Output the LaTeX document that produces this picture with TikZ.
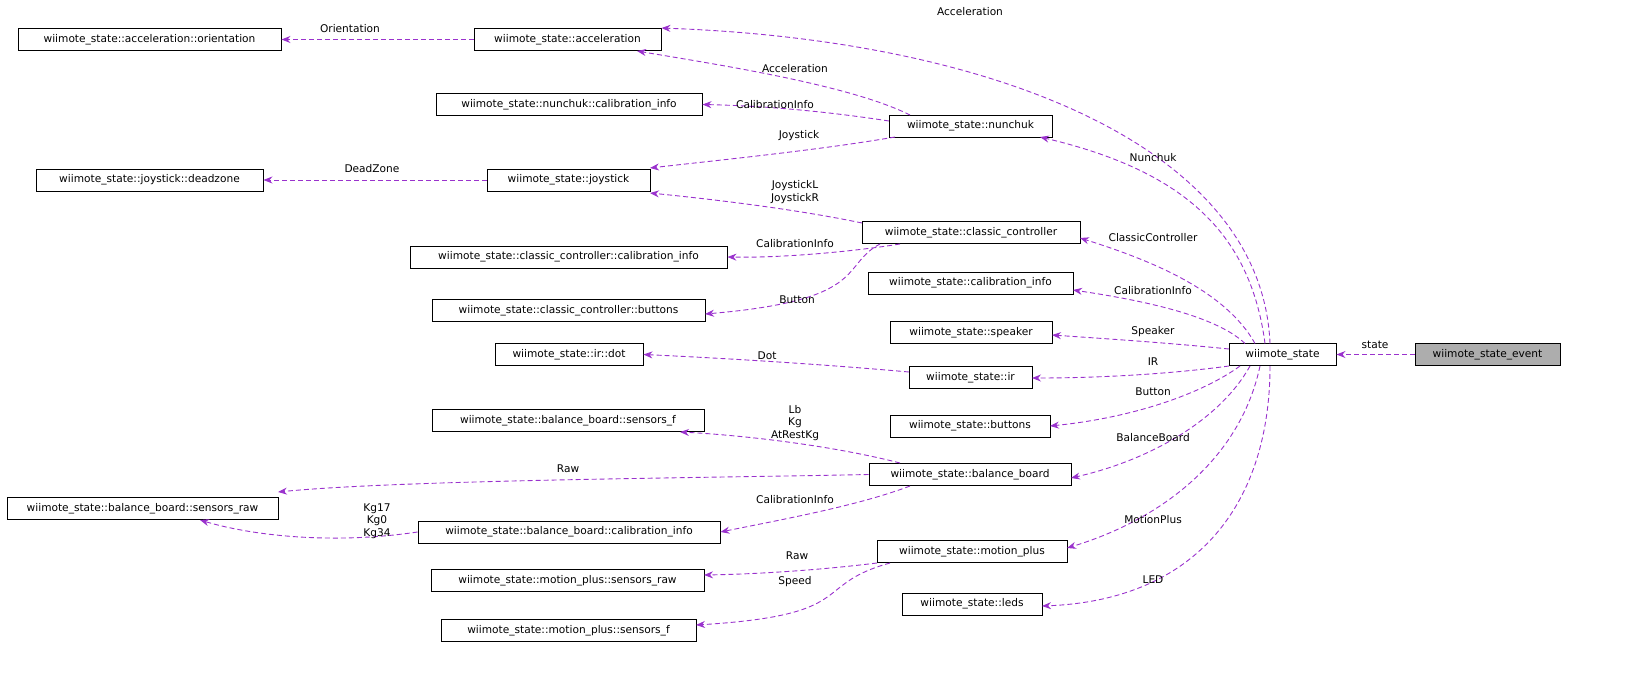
\documentclass[tikz,border=0pt]{standalone}
\usepackage{fontspec}
\setmainfont{DejaVu Sans}
\usetikzlibrary{arrows.meta}
\definecolor{edge}{HTML}{9A32CD}
\begin{document}
\begin{tikzpicture}[x=1pt,y=-1pt,
  box/.style={draw=black,fill=white,line width=0.9pt,inner sep=0pt,minimum height=22pt,font=\fontsize{10.6}{12}\selectfont},
  e/.style={draw=edge,dashed,dash pattern=on 5pt off 3pt,line width=0.9pt,-{Stealth[length=9pt,width=7pt]}},
  lbl/.style={font=\fontsize{10.6}{12.5}\selectfont,align=center,inner sep=0pt}]
\useasboundingbox (0,0) rectangle (1637,677);
\node[box,minimum width=263pt] (ori) at (149.5,39.5) {wiimote\_state::acceleration::orientation};
\node[box,minimum width=187pt] (acc) at (567.5,39.5) {wiimote\_state::acceleration};
\node[box,minimum width=266pt] (ncal) at (569,104.5) {wiimote\_state::nunchuk::calibration\_info};
\node[box,minimum width=163pt] (nun) at (970.5,126) {wiimote\_state::nunchuk};
\node[box,minimum width=227pt] (dz) at (149.5,180) {wiimote\_state::joystick::deadzone};
\node[box,minimum width=163pt] (joy) at (568.5,180) {wiimote\_state::joystick};
\node[box,minimum width=218pt] (cc) at (971,232.5) {wiimote\_state::classic\_controller};
\node[box,minimum width=317pt] (cccal) at (568.5,257) {wiimote\_state::classic\_controller::calibration\_info};
\node[box,minimum width=273pt] (ccb) at (568.5,310.5) {wiimote\_state::classic\_controller::buttons};
\node[box,minimum width=205pt] (cal) at (970.5,283) {wiimote\_state::calibration\_info};
\node[box,minimum width=162pt] (spk) at (971,332.5) {wiimote\_state::speaker};
\node[box,minimum width=107pt] (ws) at (1282.5,354.5) {wiimote\_state};
\node[box,minimum width=145pt,fill=black!32] (ev) at (1487.5,354.5) {wiimote\_state\_event};
\node[box,minimum width=148pt] (dot) at (569,354.5) {wiimote\_state::ir::dot};
\node[box,minimum width=123pt] (ir) at (970.5,377.5) {wiimote\_state::ir};
\node[box,minimum width=160pt] (btn) at (970,426) {wiimote\_state::buttons};
\node[box,minimum width=272pt] (bsf) at (568,420.5) {wiimote\_state::balance\_board::sensors\_f};
\node[box,minimum width=202pt] (bb) at (970,474.5) {wiimote\_state::balance\_board};
\node[box,minimum width=271pt] (bsr) at (142.5,508.5) {wiimote\_state::balance\_board::sensors\_raw};
\node[box,minimum width=302pt] (bcal) at (569,532) {wiimote\_state::balance\_board::calibration\_info};
\node[box,minimum width=190pt] (mp) at (972,551.5) {wiimote\_state::motion\_plus};
\node[box,minimum width=273pt] (msr) at (567.5,580.5) {wiimote\_state::motion\_plus::sensors\_raw};
\node[box,minimum width=255pt] (msf) at (568.5,630.5) {wiimote\_state::motion\_plus::sensors\_f};
\node[box,minimum width=140pt] (leds) at (972,604) {wiimote\_state::leds};

\draw[e] (ev.west) -- (ws.east);
\node[lbl] at (1375,345) {state};
\draw[e] (1270,343.5) .. controls (1262,150) and (1000,40) .. (acc.north east);
\node[lbl] at (970,12) {Acceleration};
\draw[e] (910,115) .. controls (850,85) and (720,65) .. (637,51);
\node[lbl] at (795,69) {Acceleration};
\draw[e] (acc.west) -- (ori.east);
\node[lbl] at (350,29) {Orientation};
\draw[e] (889,121) .. controls (830,112) and (770,106) .. (ncal.east);
\node[lbl] at (775,105) {CalibrationInfo};
\draw[e] (895,137) .. controls (820,150) and (720,160) .. (650,168);
\node[lbl] at (799,136) {Joystick};
\draw[e] (joy.west) -- (dz.east);
\node[lbl] at (372,169) {DeadZone};
\draw[e] (862,223) .. controls (800,210) and (720,200) .. (650,193);
\node[lbl] at (795,192) {JoystickL\\JoystickR};
\draw[e] (900,244) .. controls (850,252) and (780,258) .. (cccal.east);
\node[lbl] at (795,244) {CalibrationInfo};
\draw[e] (880,244) .. controls (840,265) and (870,300) .. (705,314);
\node[lbl] at (797,300) {Button};
\draw[e] (1265,343.5) .. controls (1250,230) and (1180,170) .. (1040,137);
\node[lbl] at (1153,158) {Nunchuk};
\draw[e] (1255,343.5) .. controls (1225,290) and (1150,260) .. (1080,238);
\node[lbl] at (1153,238) {ClassicController};
\draw[e] (1245,343.5) .. controls (1215,315) and (1140,300) .. (1073,290);
\node[lbl] at (1153,291) {CalibrationInfo};
\draw[e] (1229,349) .. controls (1170,343) and (1110,339) .. (1052,335);
\node[lbl] at (1153,332) {Speaker};
\draw[e] (909,372) .. controls (820,364) and (720,358) .. (dot.east);
\node[lbl] at (767,356) {Dot};
\draw[e] (1229,366) .. controls (1170,374) and (1100,378) .. (1032,378);
\node[lbl] at (1153,362) {IR};
\draw[e] (1240,366) .. controls (1200,395) and (1130,418) .. (1050,426);
\node[lbl] at (1153,392) {Button};
\draw[e] (1250,366) .. controls (1220,420) and (1150,460) .. (1071,478);
\node[lbl] at (1153,438) {BalanceBoard};
\draw[e] (900,463) .. controls (830,445) and (740,435) .. (680,432);
\node[lbl] at (795,423) {Lb\\Kg\\AtRestKg};
\draw[e] (bb.west) .. controls (700,478) and (400,480) .. (278,492);
\node[lbl] at (568,469) {Raw};
\draw[e] (910,486) .. controls (860,505) and (790,518) .. (bcal.east);
\node[lbl] at (795,500) {CalibrationInfo};
\draw[e] (bcal.west) .. controls (330,545) and (250,535) .. (200,520);
\node[lbl] at (377,521) {Kg17\\Kg0\\Kg34};
\draw[e] (1260,366) .. controls (1240,460) and (1160,520) .. (1067,548);
\node[lbl] at (1153,520) {MotionPlus};
\draw[e] (877,563) .. controls (820,570) and (760,574) .. (704,575);
\node[lbl] at (797,556) {Raw};
\draw[e] (890,563) .. controls (810,585) and (860,615) .. (696,625);
\node[lbl] at (795,582) {Speed};
\draw[e] (1270,366) .. controls (1270,500) and (1200,600) .. (1042,606);
\node[lbl] at (1153,580) {LED};
\end{tikzpicture}
\end{document}
